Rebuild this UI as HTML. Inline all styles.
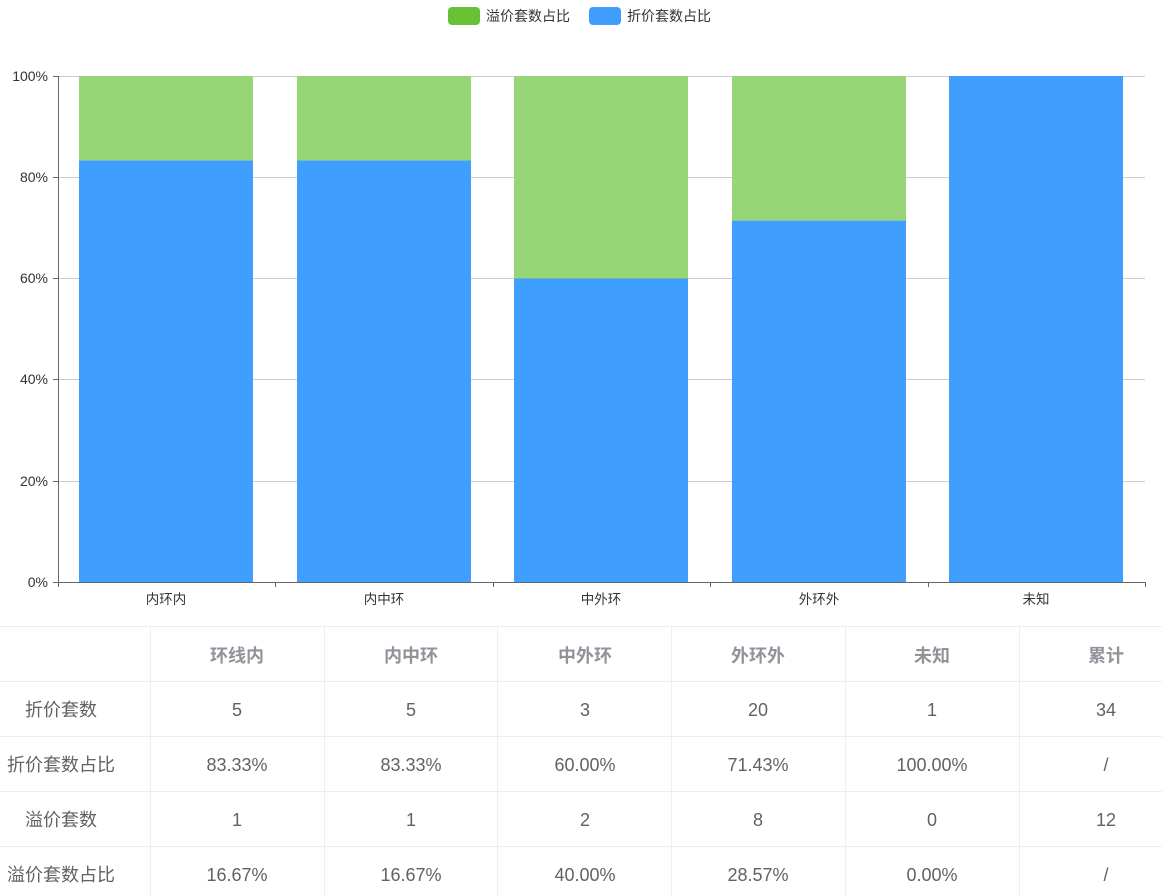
<!DOCTYPE html>
<html><head><meta charset="utf-8"><style>
body{margin:0;background:#fff;width:1162px;height:896px;overflow:hidden;font-family:"Liberation Sans","Noto Sans CJK SC",sans-serif}
</style></head><body>
<svg width="1162" height="896" xmlns="http://www.w3.org/2000/svg" style="position:absolute;left:0;top:0" font-family="Liberation Sans, Noto Sans CJK SC, sans-serif">
<rect x="448" y="7" width="32" height="18" rx="4" fill="#67c23a"/>
<text x="486" y="21" font-size="14" fill="#333">溢价套数占比</text>
<rect x="589" y="7" width="32" height="18" rx="4" fill="#409eff"/>
<text x="627" y="21" font-size="14" fill="#333">折价套数占比</text>
<g stroke="#ccc" stroke-width="1">
<line x1="58" x2="1145" y1="76.5" y2="76.5"/><line x1="58" x2="1145" y1="177.5" y2="177.5"/>
<line x1="58" x2="1145" y1="278.5" y2="278.5"/><line x1="58" x2="1145" y1="379.5" y2="379.5"/>
<line x1="58" x2="1145" y1="481.5" y2="481.5"/>
</g>
<g fill="#409eff">
<rect x="79" y="160.4" width="174" height="421.6"/><rect x="297" y="160.4" width="174" height="421.6"/>
<rect x="514" y="278.4" width="174" height="303.6"/><rect x="732" y="220.6" width="174" height="361.4"/>
<rect x="949" y="76" width="174" height="506"/>
</g>
<g fill="#97d676">
<rect x="79" y="76" width="174" height="84.4"/><rect x="297" y="76" width="174" height="84.4"/>
<rect x="514" y="76" width="174" height="202.4"/><rect x="732" y="76" width="174" height="144.6"/>
</g>
<g stroke="#666" stroke-width="1">
<line x1="58.5" x2="58.5" y1="76" y2="582"/><line x1="58" x2="1146" y1="582.5" y2="582.5"/>
<line x1="53" x2="58" y1="76.5" y2="76.5"/><line x1="53" x2="58" y1="177.5" y2="177.5"/><line x1="53" x2="58" y1="278.5" y2="278.5"/>
<line x1="53" x2="58" y1="379.5" y2="379.5"/><line x1="53" x2="58" y1="481.5" y2="481.5"/><line x1="53" x2="58" y1="582.5" y2="582.5"/>
<line x1="58.5" x2="58.5" y1="582" y2="587"/><line x1="275.5" x2="275.5" y1="582" y2="587"/><line x1="493.5" x2="493.5" y1="582" y2="587"/>
<line x1="710.5" x2="710.5" y1="582" y2="587"/><line x1="928.5" x2="928.5" y1="582" y2="587"/><line x1="1145.5" x2="1145.5" y1="582" y2="587"/>
</g>
<g font-size="14" fill="#333" text-anchor="end">
<text x="48" y="81">100%</text><text x="48" y="182">80%</text><text x="48" y="283">60%</text>
<text x="48" y="384">40%</text><text x="48" y="486">20%</text><text x="48" y="587">0%</text>
</g>
<g font-size="13.5" fill="#333" text-anchor="middle">
<text x="166" y="604">内环内</text><text x="384" y="604">内中环</text><text x="601" y="604">中外环</text>
<text x="819" y="604">外环外</text><text x="1036" y="604">未知</text>
</g>
<g stroke="#ebeef5" stroke-width="1">
<line x1="0" x2="1162" y1="626.5" y2="626.5"/><line x1="0" x2="1162" y1="681.5" y2="681.5"/>
<line x1="0" x2="1162" y1="736.5" y2="736.5"/><line x1="0" x2="1162" y1="791.5" y2="791.5"/>
<line x1="0" x2="1162" y1="846.5" y2="846.5"/>
<line x1="150.5" x2="150.5" y1="626" y2="896"/><line x1="324.5" x2="324.5" y1="626" y2="896"/>
<line x1="497.5" x2="497.5" y1="626" y2="896"/><line x1="671.5" x2="671.5" y1="626" y2="896"/>
<line x1="845.5" x2="845.5" y1="626" y2="896"/><line x1="1019.5" x2="1019.5" y1="626" y2="896"/>
</g>
<g font-size="18" fill="#909399" font-weight="bold" text-anchor="middle">
<text x="237" y="662">环线内</text><text x="411" y="662">内中环</text><text x="585" y="662">中外环</text>
<text x="758" y="662">外环外</text><text x="932" y="662">未知</text><text x="1106" y="662">累计</text>
</g>
<g font-size="18" fill="#606266" text-anchor="middle">
<text x="61" y="716">折价套数</text><text x="237" y="716">5</text><text x="411" y="716">5</text><text x="585" y="716">3</text><text x="758" y="716">20</text><text x="932" y="716">1</text><text x="1106" y="716">34</text>
<text x="61" y="771">折价套数占比</text><text x="237" y="771">83.33%</text><text x="411" y="771">83.33%</text><text x="585" y="771">60.00%</text><text x="758" y="771">71.43%</text><text x="932" y="771">100.00%</text><text x="1106" y="771">/</text>
<text x="61" y="826">溢价套数</text><text x="237" y="826">1</text><text x="411" y="826">1</text><text x="585" y="826">2</text><text x="758" y="826">8</text><text x="932" y="826">0</text><text x="1106" y="826">12</text>
<text x="61" y="881">溢价套数占比</text><text x="237" y="881">16.67%</text><text x="411" y="881">16.67%</text><text x="585" y="881">40.00%</text><text x="758" y="881">28.57%</text><text x="932" y="881">0.00%</text><text x="1106" y="881">/</text>
</g>
</svg>
</body></html>
